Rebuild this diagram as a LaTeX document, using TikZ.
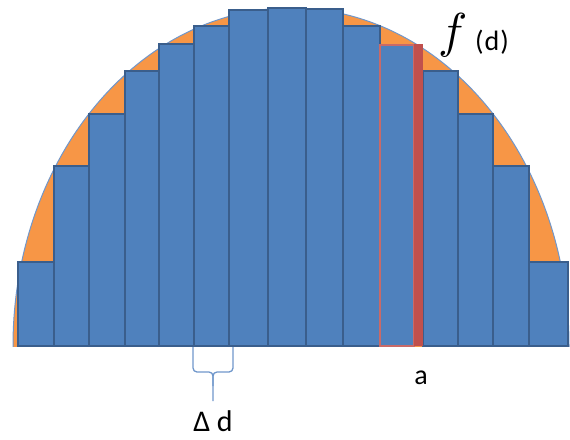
\documentclass[tikz,border=0pt]{standalone}
\usepackage{fontspec}
\newfontfamily\carl{Carlito}
\definecolor{orng}{HTML}{F79646}
\definecolor{barblue}{HTML}{4F81BD}
\definecolor{bordblue}{HTML}{3A5E8C}
\definecolor{redc}{HTML}{C0504D}
\definecolor{lightblue}{HTML}{7097CB}
\begin{document}
\begin{tikzpicture}[x=1pt,y=-1pt,
  bar/.style={fill=barblue,draw=bordblue,line width=1.1pt},
  redbar/.style={fill=barblue,draw=redc!85!white,line width=1.3pt},
  lbl/.style={anchor=base,inner sep=0pt,text=black}]
\useasboundingbox (0,0) rectangle (570,439);
\begin{scope}
  \clip (0,0) rectangle (570,346.5);
  \fill[orng] (291,346) ellipse [x radius=278, y radius=338];
  \draw[lightblue, line width=1pt] (291,346) ellipse [x radius=278, y radius=338];
\end{scope}
\foreach \l/\r/\t in {18/54/262, 54/89/166, 89/125/114, 125/159/71, 159/194/44,
  194/229/26, 229/268/10, 268/306/8, 306/343/9, 343/380/26,
  423/458/71, 458/493/114, 493/529/166, 529/568/262}
  \draw[bar] (\l,\t) rectangle (\r,346);
\draw[redbar] (380,45) rectangle (414,346);
\fill[redc] (414,44) rectangle (423,346);
% labels
\node[lbl] (fsym) at (453,47) {\scalebox{4.9}{$f$}};
\node[lbl, font=\carl\fontsize{28}{28}\selectfont] (fd) at (492,50) {(\hspace{1pt}d\hspace{1pt})};
\node[lbl, font=\carl\fontsize{28}{28}\selectfont] (alab) at (421,384) {a};
\node[lbl, font=\carl\fontsize{30}{30}\selectfont] (dlab) at (213,431) {Δ d};
% brace
\draw[lightblue, line width=1.3pt, rounded corners=4pt] (193,347) -- (193,372) -- (213,372) -- (213,401);
\draw[lightblue, line width=1.3pt, rounded corners=4pt] (233,347) -- (233,372) -- (213,372) -- (213,386);
\end{tikzpicture}
\end{document}
